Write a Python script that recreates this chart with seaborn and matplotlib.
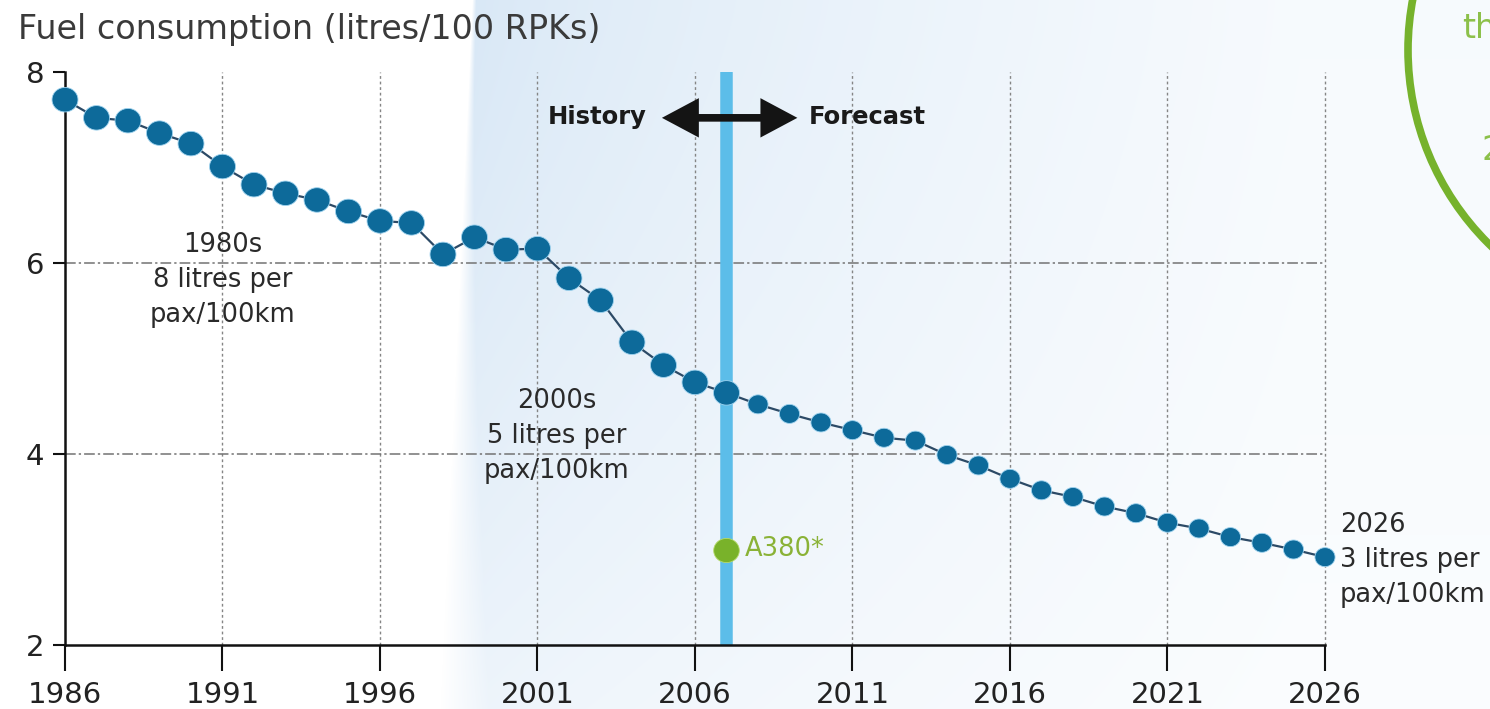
import numpy as np
import pandas as pd
import matplotlib
matplotlib.use("Agg")
import matplotlib.pyplot as plt
import seaborn as sns
from matplotlib.patches import Circle
from matplotlib.path import Path
from matplotlib.transforms import IdentityTransform

# Fuel burn per 100 revenue passenger kilometres, history then forecast
years = list(range(1986, 2027))
fuel = [7.71, 7.52, 7.49, 7.36, 7.25, 7.01, 6.82, 6.73, 6.66, 6.54, 6.44, 6.42,
        6.09, 6.27, 6.14, 6.15, 5.84, 5.61, 5.17, 4.93, 4.75, 4.64, 4.52, 4.42,
        4.33, 4.25, 4.17, 4.14, 3.99, 3.88, 3.74, 3.62, 3.55, 3.45, 3.38, 3.28,
        3.22, 3.13, 3.07, 3.00, 2.92]
last_history_year = 2007

a380_year = [2007]
a380_fuel = [3.0]
a380_label = "A380*"

x_ticks = [1986, 1991, 1996, 2001, 2006, 2011, 2016, 2021, 2026]
y_ticks = [2, 4, 6, 8]
title = "Fuel consumption (litres/100 RPKs)"

notes = ["1980s\n8 litres per\npax/100km",
         "2000s\n5 litres per\npax/100km",
         "2026\n3 litres per\npax/100km"]
note_x = [1991.0, 2001.6, 2026.48]
note_y = [5.82, 4.19, 2.89]
note_ha = ["center", "center", "left"]

df = pd.DataFrame({"year": years, "fuel": fuel})
df["phase"] = np.where(df["year"] <= last_history_year, "History", "Forecast")

sns.set_style("white")
plt.rcParams["font.family"] = ["DejaVu Sans"]

W, H = 1490, 709
fig = plt.figure(figsize=(W / 100, H / 100), dpi=100)
fig.patch.set_facecolor("white")

# soft blue wash behind the recent years
bg = fig.add_axes([0, 0, 1, 1], zorder=0)
bg.set_axis_off()
xx, yy = np.meshgrid(np.arange(W), np.arange(H))
x_edge = 472 - 32 * yy / H
soft = 4 + 45 * (yy / H) ** 1.5
edge = np.clip((xx - x_edge) / soft, 0, 1)
t = np.clip((xx - x_edge) / (1300 - x_edge), 0, 1) ** 0.7
left_c = np.array([0.848, 0.908, 0.965])
right_c = np.array([0.968, 0.982, 0.994])
col = left_c[None, None, :] * (1 - t[..., None]) + right_c[None, None, :] * t[..., None]
vert = ((yy / H) ** 1.3)[..., None] * 0.5
col = col * (1 - vert) + vert
img = np.ones((H, W, 3)) * (1 - edge[..., None]) + col * edge[..., None]
bg.imshow(img, extent=[0, 1, 0, 1], aspect="auto", origin="upper",
          transform=bg.transAxes, interpolation="bilinear")
bg.set_xlim(0, 1)
bg.set_ylim(0, 1)

# neighbouring green roundel cut off at the right edge
fig.add_artist(Circle((1681, H - 50), 273, transform=IdentityTransform(),
                      fill=False, edgecolor="#76b22c", linewidth=5.5, zorder=1))
fig.text(1462 / W, 1 - 28 / H, "th", fontsize=24, color="#8cc04a",
         va="center", ha="left", zorder=1)
fig.text(1481 / W, 1 - 150 / H, "2", fontsize=24, color="#8cc04a",
         va="center", ha="left", zorder=1)

ax = fig.add_axes([65 / W, 1 - 645 / H, 1260 / W, 573 / H], zorder=2)
ax.patch.set_alpha(0)
ax.set_xlim(1986, 2026)
ax.set_ylim(2, 8)

for xv in x_ticks[1:]:
    ax.axvline(xv, color="#858585", lw=1.0, linestyle=(0, (2, 2)), zorder=1,
               clip_on=False)
for yv in y_ticks[1:-1]:
    ax.axhline(yv, color="#737373", lw=1.1, linestyle=(0, (7, 2, 1.5, 2)), zorder=1)

ax.axvline(last_history_year, color="#5cbde9", lw=9, zorder=1.5)

# dots a touch wider than tall
theta = np.linspace(0, 2 * np.pi, 60)
oval = Path(np.column_stack([1.06 * np.cos(theta), np.sin(theta)]), closed=True)

sns.lineplot(data=df, x="year", y="fuel", ax=ax, color="#2c4a66", lw=1.6,
             zorder=3, legend=False)
sns.scatterplot(data=df, x="year", y="fuel", size="phase",
                sizes={"History": 350, "Forecast": 210}, ax=ax, marker=oval,
                color="#0d6a9a", edgecolor="#9fd3ef", linewidth=0.6,
                legend=False, zorder=4, clip_on=False)
sns.scatterplot(x=a380_year, y=a380_fuel, ax=ax, color="#79b22a", s=340,
                marker=oval, edgecolor="#b5d96a", linewidth=0.6, legend=False,
                zorder=4)
ax.text(a380_year[0] + 0.59, a380_fuel[0], a380_label, color="#8ab236",
        fontsize=18.5, va="center", ha="left", zorder=5)

for txt, xv, yv, ha in zip(notes, note_x, note_y, note_ha):
    ax.text(xv, yv, txt, ha=ha, va="center", multialignment=ha,
            fontsize=18.5, color="#2a2a2a", linespacing=1.45, zorder=5,
            clip_on=False)

ax.text(2004.45, 7.53, "History", ha="right", va="center", fontsize=17.5,
        fontweight="bold", color="#1a1a1a", zorder=5)
ax.text(2009.6, 7.53, "Forecast", ha="left", va="center", fontsize=17.5,
        fontweight="bold", color="#1a1a1a", zorder=5)
ax.annotate("", xy=(2004.95, 7.52), xytext=(2009.25, 7.52),
            arrowprops=dict(arrowstyle="<|-|>,head_length=0.6,head_width=0.32",
                            color="#141414", lw=5.5, mutation_scale=30,
                            joinstyle="miter", capstyle="butt",
                            shrinkA=0, shrinkB=0), zorder=5)

ax.set_xticks(x_ticks)
ax.set_yticks(y_ticks)
ax.set_xlabel("")
ax.set_ylabel("")
ax.tick_params(axis="x", length=19, width=1.5, pad=7, labelsize=21,
               color="#111111", labelcolor="#222222", direction="out", bottom=True)
ax.tick_params(axis="y", length=9, width=1.5, pad=6, labelsize=21,
               color="#111111", labelcolor="#222222", direction="out", left=True)
sns.despine(ax=ax, top=True, right=True)
for s in ["left", "bottom"]:
    ax.spines[s].set_color("#111111")
    ax.spines[s].set_linewidth(1.8)

fig.text(18 / W, 1 - 30 / H, title, fontsize=24, color="#3a3a3a",
         ha="left", va="center")

fig.savefig("out.png", dpi=100)
